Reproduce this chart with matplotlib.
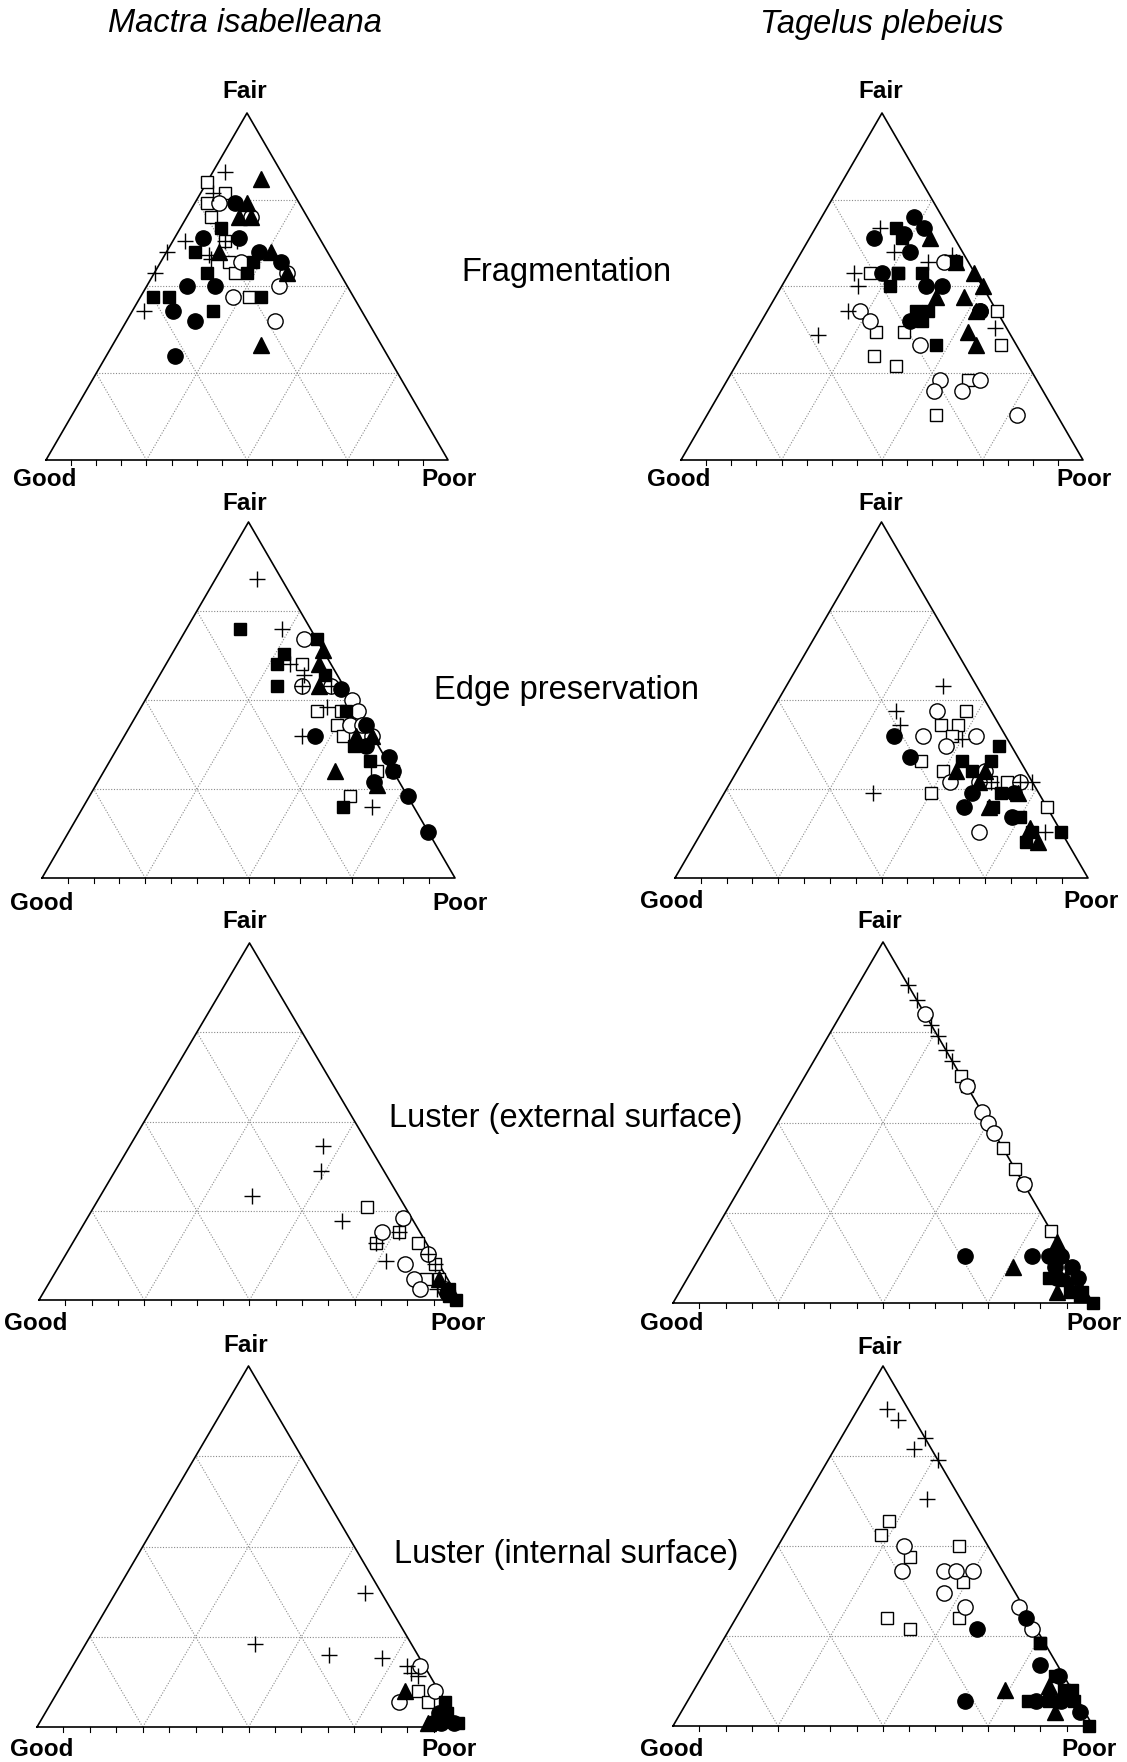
import numpy as np
import matplotlib
matplotlib.use('Agg')
import matplotlib.pyplot as plt

plt.rcParams['font.family'] = ['Liberation Sans', 'DejaVu Sans']

W, H = 1127, 1762
H3 = np.sqrt(3) / 2

# rows: (symbol, % Fair, % Poor)  -- % Good is the remainder
# symbols: plus, osq (open square), ocirc (open circle), fcirc, fsq, ftri (filled)
frag_mactra = [
    ('plus', 83, 3), ('plus', 77, 3), ('plus', 63, 3), ('plus', 60, 0), ('plus', 54, 0),
    ('plus', 43, 3), ('plus', 59, 11), ('plus', 58, 12), ('plus', 63, 13), ('plus', 63, 16),
    ('osq', 80, 0), ('osq', 77, 6), ('osq', 74, 3), ('osq', 70, 6), ('osq', 63, 13),
    ('osq', 57, 17), ('osq', 54, 20), ('osq', 47, 27),
    ('ocirc', 74, 6), ('ocirc', 70, 16), ('ocirc', 57, 20), ('ocirc', 50, 33), ('ocirc', 47, 23),
    ('ocirc', 40, 37), ('ocirc', 54, 33),
    ('fcirc', 74, 10), ('fcirc', 64, 7), ('fcirc', 64, 16), ('fcirc', 60, 23), ('fcirc', 57, 30),
    ('fcirc', 50, 10), ('fcirc', 50, 17), ('fcirc', 43, 10), ('fcirc', 40, 17), ('fcirc', 30, 17),
    ('fsq', 67, 10), ('fsq', 60, 7), ('fsq', 57, 23), ('fsq', 54, 13), ('fsq', 54, 23),
    ('fsq', 47, 3), ('fsq', 47, 7), ('fsq', 47, 30), ('fsq', 43, 20),
    ('ftri', 81, 13), ('ftri', 74, 13), ('ftri', 70, 13), ('ftri', 70, 16), ('ftri', 60, 13),
    ('ftri', 60, 26), ('ftri', 54, 33), ('ftri', 33, 37),
]

frag_tagelus = [
    ('plus', 67, 16), ('plus', 60, 23), ('plus', 57, 33), ('plus', 59, 38), ('plus', 54, 16),
    ('plus', 50, 19), ('plus', 43, 20), ('plus', 36, 16), ('plus', 38, 59),
    ('osq', 54, 20), ('osq', 54, 27), ('osq', 37, 30), ('osq', 37, 37), ('osq', 30, 33),
    ('osq', 27, 40), ('osq', 43, 57), ('osq', 33, 63), ('osq', 23, 60), ('osq', 13, 57),
    ('ocirc', 57, 37), ('ocirc', 43, 23), ('ocirc', 40, 27), ('ocirc', 33, 43), ('ocirc', 43, 53),
    ('ocirc', 23, 53), ('ocirc', 20, 53), ('ocirc', 20, 60), ('ocirc', 23, 63), ('ocirc', 13, 77),
    ('fcirc', 70, 23), ('fcirc', 67, 27), ('fcirc', 64, 16), ('fcirc', 65, 23), ('fcirc', 60, 27),
    ('fcirc', 54, 23), ('fcirc', 50, 36), ('fcirc', 50, 40), ('fcirc', 40, 37), ('fcirc', 43, 53),
    ('fsq', 67, 20), ('fsq', 64, 23), ('fsq', 54, 27), ('fsq', 54, 33), ('fsq', 50, 27),
    ('fsq', 57, 40), ('fsq', 43, 37), ('fsq', 43, 40), ('fsq', 40, 40), ('fsq', 33, 47),
    ('ftri', 64, 30), ('ftri', 57, 40), ('ftri', 54, 46), ('ftri', 50, 50), ('ftri', 47, 40),
    ('ftri', 47, 47), ('ftri', 43, 52), ('ftri', 37, 53), ('ftri', 33, 57),
]

edge_mactra = [
    ('plus', 84, 10), ('plus', 70, 23), ('plus', 60, 30), ('plus', 57, 35), ('plus', 48, 45),
    ('plus', 40, 43), ('plus', 20, 70), ('plus', 54, 36), ('plus', 54, 43),
    ('osq', 60, 33), ('osq', 47, 43), ('osq', 47, 49), ('osq', 43, 50), ('osq', 40, 53),
    ('osq', 30, 66), ('osq', 30, 70), ('osq', 23, 63), ('osq', 40, 58),
    ('ocirc', 67, 30), ('ocirc', 54, 36), ('ocirc', 54, 43), ('ocirc', 50, 50), ('ocirc', 47, 53),
    ('ocirc', 43, 53), ('ocirc', 43, 56), ('ocirc', 40, 60),
    ('fcirc', 40, 46), ('fcirc', 53, 46), ('fcirc', 37, 60), ('fcirc', 43, 57), ('fcirc', 34, 67),
    ('fcirc', 30, 70), ('fcirc', 27, 67), ('fcirc', 23, 77), ('fcirc', 13, 87),
    ('fsq', 70, 13), ('fsq', 67, 33), ('fsq', 63, 27), ('fsq', 60, 27), ('fsq', 54, 30),
    ('fsq', 57, 40), ('fsq', 47, 50), ('fsq', 37, 57), ('fsq', 33, 63), ('fsq', 20, 63),
    ('ftri', 64, 36), ('ftri', 60, 37), ('ftri', 54, 40), ('ftri', 40, 56), ('ftri', 40, 60),
    ('ftri', 30, 56), ('ftri', 26, 68),
]

edge_tagelus = [
    ('plus', 54, 38), ('plus', 47, 30), ('plus', 43, 33), ('plus', 39, 50), ('plus', 24, 36),
    ('plus', 27, 70), ('plus', 27, 73), ('plus', 13, 83), ('plus', 27, 63),
    ('osq', 47, 47), ('osq', 43, 43), ('osq', 43, 47), ('osq', 40, 47), ('osq', 33, 43),
    ('osq', 30, 50), ('osq', 24, 50), ('osq', 27, 67), ('osq', 27, 63), ('osq', 20, 80),
    ('ocirc', 47, 40), ('ocirc', 40, 40), ('ocirc', 37, 47), ('ocirc', 40, 53), ('ocirc', 30, 60),
    ('ocirc', 27, 53), ('ocirc', 27, 60), ('ocirc', 27, 70), ('ocirc', 13, 67),
    ('fcirc', 40, 33), ('fcirc', 34, 40), ('fcirc', 24, 60), ('fcirc', 20, 60), ('fcirc', 24, 70),
    ('fcirc', 17, 73),
    ('fsq', 37, 60), ('fsq', 33, 53), ('fsq', 33, 60), ('fsq', 30, 57), ('fsq', 24, 67),
    ('fsq', 20, 67), ('fsq', 17, 75), ('fsq', 13, 80), ('fsq', 13, 87), ('fsq', 10, 80),
    ('ftri', 30, 53), ('ftri', 27, 60), ('ftri', 30, 60), ('ftri', 20, 66), ('ftri', 24, 71),
    ('ftri', 14, 79), ('ftri', 10, 83),
]

lext_mactra = [
    ('plus', 43, 46), ('plus', 36, 49), ('plus', 29, 36), ('plus', 22, 61), ('plus', 11, 77),
    ('plus', 3, 93), ('plus', 16, 72), ('plus', 19, 76), ('plus', 10, 89), ('plus', 13, 86),
    ('osq', 26, 65), ('osq', 16, 72), ('osq', 19, 76), ('osq', 16, 82), ('osq', 10, 89),
    ('osq', 6, 89), ('osq', 6, 92),
    ('ocirc', 23, 75), ('ocirc', 19, 72), ('ocirc', 13, 86), ('ocirc', 10, 82), ('ocirc', 6, 86),
    ('ocirc', 3, 89), ('ocirc', 3, 95),
    ('fcirc', 2, 96),
    ('fsq', 3, 96), ('fsq', 0, 99), ('fsq', 1, 97),
    ('ftri', 6, 92),
]

lext_tagelus = [
    ('plus', 88, 12), ('plus', 84, 16), ('plus', 77, 23), ('plus', 74, 26), ('plus', 70, 30),
    ('plus', 67, 33),
    ('osq', 63, 37), ('osq', 60, 40), ('osq', 43, 57), ('osq', 37, 63), ('osq', 33, 67),
    ('osq', 20, 80),
    ('ocirc', 80, 20), ('ocirc', 60, 40), ('ocirc', 53, 47), ('ocirc', 50, 50), ('ocirc', 47, 53),
    ('ocirc', 33, 67),
    ('fcirc', 13, 63), ('fcirc', 13, 79), ('fcirc', 13, 83), ('fcirc', 13, 86), ('fcirc', 10, 86),
    ('fcirc', 10, 90), ('fcirc', 7, 93), ('fcirc', 7, 88),
    ('fsq', 7, 86), ('fsq', 3, 93), ('fsq', 3, 96), ('fsq', 0, 100), ('fsq', 2, 96),
    ('ftri', 17, 83), ('ftri', 10, 76), ('ftri', 3, 90), ('ftri', 7, 90),
]

lint_mactra = [
    ('plus', 37, 59), ('plus', 23, 40), ('plus', 20, 59), ('plus', 19, 72), ('plus', 17, 79),
    ('plus', 15, 81), ('plus', 14, 83),
    ('osq', 10, 85), ('osq', 7, 89),
    ('ocirc', 17, 82), ('ocirc', 10, 89), ('ocirc', 7, 82),
    ('fcirc', 1, 93), ('fcirc', 1, 95), ('fcirc', 1, 98), ('fcirc', 4, 93),
    ('fsq', 7, 93), ('fsq', 4, 95), ('fsq', 1, 99),
    ('ftri', 10, 82), ('ftri', 1, 92),
]

lint_tagelus = [
    ('plus', 88, 7), ('plus', 85, 11), ('plus', 80, 20), ('plus', 77, 19), ('plus', 74, 26),
    ('plus', 63, 29),
    ('osq', 57, 23), ('osq', 53, 23), ('osq', 47, 33), ('osq', 50, 43), ('osq', 40, 49),
    ('osq', 30, 36), ('osq', 27, 43), ('osq', 30, 53), ('osq', 23, 76),
    ('ocirc', 50, 30), ('ocirc', 43, 33), ('ocirc', 43, 43), ('ocirc', 43, 46), ('ocirc', 43, 50),
    ('ocirc', 37, 46), ('ocirc', 33, 53), ('ocirc', 33, 66), ('ocirc', 27, 72),
    ('fcirc', 27, 59), ('fcirc', 30, 69), ('fcirc', 17, 79), ('fcirc', 7, 66), ('fcirc', 14, 85),
    ('fcirc', 7, 83), ('fcirc', 7, 89), ('fcirc', 4, 95),
    ('fsq', 23, 76), ('fsq', 14, 84), ('fsq', 10, 90), ('fsq', 7, 81), ('fsq', 7, 86),
    ('fsq', 7, 92), ('fsq', 0, 99), ('fsq', 10, 88),
    ('ftri', 10, 74), ('ftri', 11, 84), ('ftri', 4, 89),
]

col_titles = ['Mactra isabelleana', 'Tagelus plebeius']
row_titles = ['Fragmentation', 'Edge preservation',
              'Luster (external surface)', 'Luster (internal surface)']
corner_labels = ['Good', 'Fair', 'Poor']

styles = {
    'osq':   dict(marker='s', mfc='white', mec='black', ms=9, mew=1.0),
    'ocirc': dict(marker='o', mfc='white', mec='black', ms=11, mew=1.0),
    'fcirc': dict(marker='o', mfc='black', mec='black', ms=11, mew=1.0),
    'fsq':   dict(marker='s', mfc='black', mec='black', ms=9, mew=1.0),
    'ftri':  dict(marker='^', mfc='black', mec='black', ms=11, mew=1.0),
    'plus':  dict(marker='+', color='black', ms=12, mew=1.0),
}
draw_order = ['osq', 'ocirc', 'fcirc', 'fsq', 'ftri', 'plus']


def to_xy(fair, poor):
    fair = np.asarray(fair, float) / 100
    poor = np.asarray(poor, float) / 100
    return poor + fair / 2, fair * H3


def draw_panel(fig, rows, good_px, poor_px, fair_py):
    gx, gy = good_px
    px = poor_px
    ax = fig.add_axes([gx / W, 1 - gy / H, (px - gx) / W, (gy - fair_py) / H])
    ax.set_xlim(0, 1)
    ax.set_ylim(0, H3)
    ax.axis('off')
    # grid (dotted) at 25 % steps
    for k in (0.25, 0.5, 0.75):
        kw = dict(color='#8a8a8a', lw=0.8, ls=(0, (1, 1.5)), zorder=1)
        ax.plot([k / 2, 1 - k / 2], [k * H3, k * H3], **kw)
        ax.plot([k, k + (1 - k) / 2], [0, (1 - k) * H3], **kw)
        ax.plot([1 - k, (1 - k) / 2], [0, (1 - k) * H3], **kw)
    # outline
    ax.plot([0, 1, 0.5, 0], [0, 0, H3, 0], color='black', lw=1.2, zorder=2,
            clip_on=False)
    # base ticks
    for t in np.arange(1, 16) / 16:
        ax.plot([t, t], [0, -0.012], color='black', lw=0.8, clip_on=False)
    for code in draw_order:
        pts = [(f, p) for c, f, p in rows if c == code]
        if not pts:
            continue
        f, p = zip(*pts)
        x, y = to_xy(f, p)
        ax.plot(x, y, ls='none', clip_on=False, zorder=3, **styles[code])
    return ax


fig = plt.figure(figsize=(W / 100, H / 100), dpi=100)

panels = [
    (frag_mactra, (46, 460), 448, 113),
    (frag_tagelus, (681, 460), 1083, 113),
    (edge_mactra, (42, 878), 455, 522),
    (edge_tagelus, (675, 878), 1088, 522),
    (lext_mactra, (39, 1300), 460, 943),
    (lext_tagelus, (673, 1303), 1093, 942),
    (lint_mactra, (37, 1727), 460, 1366),
    (lint_tagelus, (673, 1726), 1093, 1366),
]
for rows, g, p, f in panels:
    draw_panel(fig, rows, g, p, f)

# corner labels (pixel centres): Good, Fair, Poor for each panel
label_pos = [
    [(45, 480), (245, 92), (449, 480)],
    [(679, 479), (881, 92), (1084, 479)],
    [(42, 903), (245, 503), (460, 904)],
    [(672, 902), (881, 504), (1091, 902)],
    [(36, 1324), (245, 922), (458, 1324)],
    [(672, 1324), (880, 922), (1094, 1324)],
    [(42, 1749), (246, 1345), (449, 1749)],
    [(672, 1749), (880, 1348), (1089, 1749)],
]
for trio in label_pos:
    for name, (x, y) in zip(corner_labels, trio):
        fig.text(x / W, 1 - y / H, name, ha='center', va='center',
                 fontsize=17.5, fontweight='bold')

for name, x in zip(col_titles, (245, 882)):
    fig.text(x / W, 1 - 24 / H, name, ha='center', va='center',
             fontsize=23.5, style='italic')

for name, y in zip(row_titles, (273, 691, 1118, 1554)):
    fig.text(566 / W, 1 - y / H, name, ha='center', va='center', fontsize=23.5)

fig.savefig('out.png', dpi=100)
